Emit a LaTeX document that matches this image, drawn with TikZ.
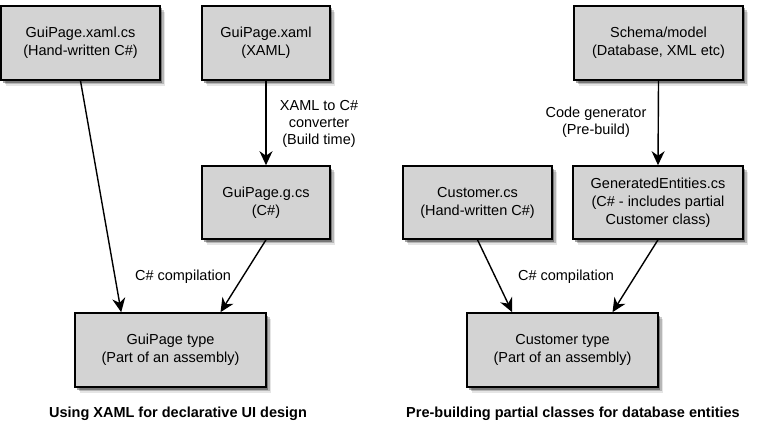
\documentclass[tikz,border=0pt]{standalone}
\usepackage{fontspec}
\setmainfont{Liberation Sans}
\usetikzlibrary{arrows.meta,shadows}
\definecolor{boxgray}{RGB}{211,211,211}
\tikzset{
  graybox/.style={draw=black, line width=1.6pt, fill=boxgray, align=center, inner sep=0pt,
    font=\fontsize{14.5}{18}\selectfont,
    drop shadow={shadow xshift=2pt, shadow yshift=-2.5pt, opacity=0.35, fill=black},
    drop shadow={shadow xshift=3.5pt, shadow yshift=-4pt, opacity=0.2, fill=black},
    drop shadow={shadow xshift=5pt, shadow yshift=-6pt, opacity=0.1, fill=black}},
  lbltext/.style={align=center, inner sep=0pt, font=\fontsize{14.5}{17}\selectfont},
  captext/.style={inner sep=0pt, font=\bfseries\fontsize{14.5}{17}\selectfont},
  conn/.style={line width=1.4pt, -{Stealth[length=14pt, width=13pt, inset=4.5pt]}}
}
\begin{document}
\begin{tikzpicture}[x=1pt, y=-1pt]
\useasboundingbox (0,0) rectangle (759,428);
% left panel
\node[graybox, minimum width=159pt, minimum height=74pt] (A) at (80.5,43) {GuiPage.xaml.cs\\(Hand-written C\#)};
\node[graybox, minimum width=128pt, minimum height=74pt] (B) at (266,43) {GuiPage.xaml\\(XAML)};
\node[graybox, minimum width=128pt, minimum height=73pt] (C) at (266,202.5) {GuiPage.g.cs\\(C\#)};
\node[graybox, minimum width=191pt, minimum height=74pt] (D) at (170.5,350) {GuiPage type\\(Part of an assembly)};
\node[lbltext] (l1) at (319,124) {XAML to C\#\\converter\\(Build time)};
\node[lbltext] (l2) at (183,277) {C\# compilation};
\node[captext] (c1) at (178,414) {Using XAML for declarative UI design};
\draw[conn] (A.south) -- ([xshift=47pt]D.north west);
\draw[conn] (B.south) -- (C.north);
\draw[conn] (C.south) -- ([xshift=50pt]D.north);
% right panel
\node[graybox, minimum width=169pt, minimum height=74pt] (E) at (658.5,43) {Schema/model\\(Database, XML etc)};
\node[graybox, minimum width=149pt, minimum height=73pt] (F) at (477.5,202.5) {Customer.cs\\(Hand-written C\#)};
\node[graybox, minimum width=170pt, minimum height=73pt] (G) at (658,202.5) {GeneratedEntities.cs\\(C\# - includes partial\\Customer class)};
\node[graybox, minimum width=191pt, minimum height=74pt] (H) at (562.5,350) {Customer type\\(Part of an assembly)};
\node[lbltext] (l3) at (596,122) {Code generator\\(Pre-build)};
\node[lbltext] (l4) at (566,277) {C\# compilation};
\node[captext] (c2) at (573,414) {Pre-building partial classes for database entities};
\draw[conn] (E.south) -- (G.north);
\draw[conn] (F.south) -- ([xshift=46pt]H.north west);
\draw[conn] (G.south) -- ([xshift=50pt]H.north);
\end{tikzpicture}
\end{document}
